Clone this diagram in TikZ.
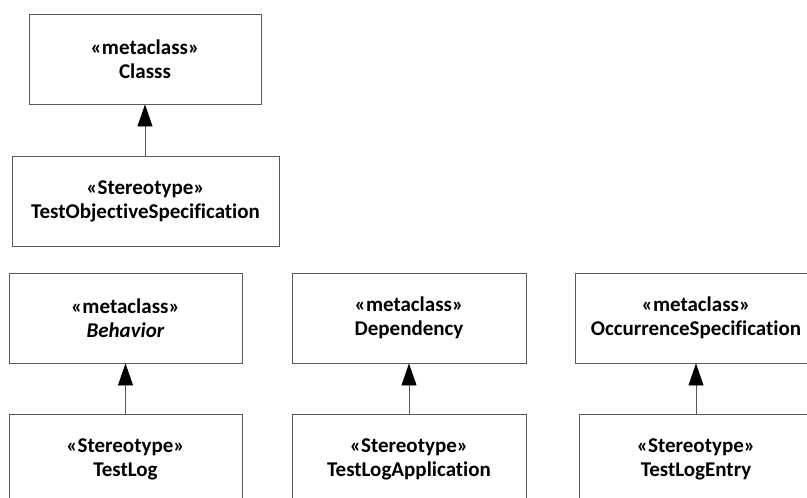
\documentclass[tikz,border=0pt]{standalone}
\usepackage{fontspec}
\setmainfont{Carlito}[Ligatures=NoCommon]
\usepackage{tikz}
\usetikzlibrary{arrows.meta}
\definecolor{boxline}{HTML}{5A5A5A}
\tikzset{
    umlbox/.style={
        draw=boxline, line width=0.9pt, rectangle, align=center,
        font=\fontsize{21}{24}\selectfont\bfseries,
        minimum height=90pt, inner sep=2pt
    },
    gen/.style={
        -{Triangle[length=22pt, width=15pt, color=black]}, line width=0.9pt, color=boxline
    }
}

\begin{document}
\begin{tikzpicture}[x=1pt,y=-1pt, line cap=rect, line join=miter]

\useasboundingbox (0,0) rectangle (807,498);
\clip (0,0) rectangle (807,498);

% top pair
\node[umlbox, minimum width=232pt] (cls) at (145,59) {«metaclass»\\Classs};
\node[umlbox, minimum width=267pt] (tos) at (145.5,201) {«Stereotype»\\TestObjectiveSpecification};

% metaclasses
\node[umlbox, minimum width=233pt] (beh) at (125.5,318) {«metaclass»\\\textit{Behavior}};
\node[umlbox, minimum width=234pt] (dep) at (409,318) {«metaclass»\\Dependency};
\node[umlbox, minimum width=242pt] (occ) at (696,318) {«metaclass»\\OccurrenceSpecification};

% stereotypes
\node[umlbox, minimum width=233pt] (tlog) at (125.5,459) {«Stereotype»\\TestLog};
\node[umlbox, minimum width=234pt] (tapp) at (409,459) {«Stereotype»\\TestLogApplication};
\node[umlbox, minimum width=234pt] (tent) at (696,459) {«Stereotype»\\TestLogEntry};

% extensions
\foreach \s/\t in {tos/cls, tlog/beh, tapp/dep, tent/occ} {
  \draw[gen] (\t.south |- \s.north) -- (\t.south);
}

\end{tikzpicture}
\end{document}
